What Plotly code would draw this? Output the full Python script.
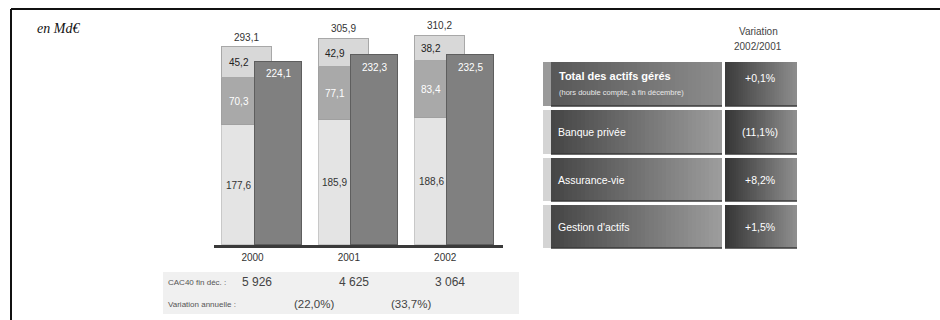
import numpy as np
import plotly.graph_objects as go

# ---------------- data ----------------
years = ["2000", "2001", "2002"]
gestion_actifs = [177.6, 185.9, 188.6]
assurance_vie = [70.3, 77.1, 83.4]
banque_privee = [45.2, 42.9, 38.2]
total_brut = [293.1, 305.9, 310.2]
total_net = [224.1, 232.3, 232.5]
cac40 = ["5 926", "4 625", "3 064"]
cac40_variation = ["(22,0%)", "(33,7%)"]
table_labels = ["Total des actifs gérés", "Banque privée", "Assurance-vie", "Gestion d'actifs"]
table_sub = "(hors double compte, à fin décembre)"
table_values = ["+0,1%", "(11,1%)", "+8,2%", "+1,5%"]

W, H = 940, 320
def px(x): return x / W
def py(y): return 1 - y / H
def fr(v): return f"{v:.1f}".replace(".", ",")

FONT = "Liberation Sans, Arial, sans-serif"
xs = list(range(len(years)))

fig = go.Figure()
light_w, light_off = 0.518, -0.155 - 0.259
dark_w, dark_off = 0.487, 0.166 - 0.2435

fig.add_bar(x=xs, y=gestion_actifs, width=light_w, offset=light_off,
            marker=dict(color="#e4e4e4", line=dict(color="#c8c8c8", width=1)), yaxis="y")
fig.add_bar(x=xs, y=assurance_vie, width=light_w, offset=light_off,
            marker=dict(color="#a9a9a9", line=dict(color="#a0a0a0", width=1)), yaxis="y")
fig.add_bar(x=xs, y=banque_privee, width=light_w, offset=light_off,
            marker=dict(color="#d8d8d8", line=dict(color="#a8a8a8", width=1)), yaxis="y")
fig.add_bar(x=xs, y=total_net, width=dark_w, offset=dark_off,
            marker=dict(color="#808080", line=dict(color="#5e5e5e", width=1.5)), yaxis="y2")

ann = []
def A(**kw):
    kw.setdefault("xanchor", "center")
    kw.setdefault("yanchor", "middle")
    kw.setdefault("showarrow", False)
    ann.append(kw)

lab_dx = -0.245
for i in xs:
    g, a, b = gestion_actifs[i], assurance_vie[i], banque_privee[i]
    A(x=i - 0.16, y=total_brut[i], xref="x", yref="y", text=fr(total_brut[i]),
      yshift=10, font=dict(size=10, color="#333", family=FONT))
    A(x=i + lab_dx, y=g + a + b / 2, xref="x", yref="y", text=fr(b),
      font=dict(size=10, color="#222", family=FONT))
    A(x=i + lab_dx, y=g + a / 2, xref="x", yref="y", text=fr(a),
      font=dict(size=10, color="#ffffff", family=FONT))
    A(x=i + lab_dx, y=g / 2, xref="x", yref="y", text=fr(g),
      font=dict(size=10, color="#333", family=FONT))
    A(x=i + 0.166, y=total_net[i], xref="x", yref="y2", text=fr(total_net[i]),
      yshift=-12, font=dict(size=10, color="#ffffff", family=FONT))
    A(x=i - 0.05, y=py(282), xref="x", yref="paper", text=cac40[i],
      font=dict(size=12, color="#444", family=FONT))
for i, v in enumerate(cac40_variation):
    A(x=i + 0.54, y=py(304), xref="x", yref="paper", text=v,
      font=dict(size=11.5, color="#444", family=FONT))

A(x=px(166), y=py(282), xref="paper", yref="paper", text="CAC40 fin déc. :",
  xanchor="left", font=dict(size=8, color="#555", family=FONT))
A(x=px(166), y=py(304), xref="paper", yref="paper", text="Variation annuelle :",
  xanchor="left", font=dict(size=8, color="#555", family=FONT))
A(x=px(35), y=py(29), xref="paper", yref="paper", text="<i>en Md€</i>",
  xanchor="left", font=dict(size=14, color="#111", family="Liberation Serif, Times New Roman, serif"))
A(x=px(758), y=py(31), xref="paper", yref="paper", text="Variation",
  font=dict(size=10, color="#444", family=FONT))
A(x=px(758), y=py(47), xref="paper", yref="paper", text="2002/2001",
  font=dict(size=10, color="#444", family=FONT))

# ---------------- table ----------------
rows = [(62, 106), (110, 154), (158, 201), (205, 248)]
left_scales = [[[0, "#585858"], [1, "#8c8c8c"]]] + [[[0, "#464646"], [1, "#9c9c9c"]]] * 3
right_scales = [[[0, "#3c3c3c"], [1, "#8c8c8c"]]] + [[[0, "#363636"], [1, "#8e8e8e"]]] * 3
strip_colors = ["#9a9a9a", "#d4d4d4", "#d4d4d4", "#d4d4d4"]
n = 40
shapes = []
for r, (y0, y1) in enumerate(rows):
    for (x0, x1, cs) in [(551, 722, left_scales[r]), (725, 797, right_scales[r])]:
        fig.add_heatmap(x=np.linspace(x0, x1, n + 1), y=[y0, y1], z=[list(range(n))],
                        colorscale=cs, showscale=False, hoverinfo="skip",
                        xaxis="x3", yaxis="y3")
        shapes.append(dict(type="line", xref="x3", yref="y3", x0=x0, x1=x1, y0=y1, y1=y1,
                           line=dict(color="#3a3a3a", width=1.5)))
    shapes.append(dict(type="rect", xref="x3", yref="y3", x0=543, x1=551, y0=y0, y1=y1,
                       fillcolor=strip_colors[r], line=dict(width=0)))
    label = table_labels[r]
    if r == 0:
        A(x=557, y=76, xref="x3", yref="y3", text="<b>" + label + "</b>",
          xanchor="left", font=dict(size=11, color="#ffffff", family=FONT))
        A(x=557, y=92, xref="x3", yref="y3", text=table_sub,
          xanchor="left", font=dict(size=7.5, color="#e8e8e8", family=FONT))
        vy = 78
    else:
        A(x=556, y=(y0 + y1) / 2, xref="x3", yref="y3", text=label,
          xanchor="left", font=dict(size=10.5, color="#ffffff", family=FONT))
        vy = (y0 + y1) / 2
    A(x=760, y=vy, xref="x3", yref="y3", text=table_values[r],
      font=dict(size=10.5, color="#ffffff", family=FONT))

# CAC band, frame
shapes.insert(0, dict(type="rect", xref="paper", yref="paper", x0=px(163), x1=px(519),
                      y0=py(314), y1=py(272), fillcolor="#f0f0f0", line=dict(width=0), layer="below"))
shapes.append(dict(type="line", xref="paper", yref="paper", x0=px(11), x1=px(940),
                   y0=py(9), y1=py(9), line=dict(color="#111", width=2)))
shapes.append(dict(type="line", xref="paper", yref="paper", x0=px(11), x1=px(11),
                   y0=py(9), y1=py(320), line=dict(color="#111", width=2)))

fig.update_layout(
    width=W, height=H, margin=dict(l=0, r=0, t=0, b=0),
    paper_bgcolor="white", plot_bgcolor="rgba(0,0,0,0)",
    barmode="stack", showlegend=False, bargap=0,
    font=dict(family=FONT),
    xaxis=dict(domain=[px(214), px(503)], range=[-0.5, 2.5], tickvals=[i - 0.1 for i in xs],
               ticktext=years, showgrid=False, zeroline=False, showline=True,
               linecolor="#3a3a3a", linewidth=2.5, ticks="", ticklabelstandoff=1,
               tickfont=dict(size=10, color="#333", family=FONT), fixedrange=True),
    yaxis=dict(domain=[py(245), py(25)], range=[0, 220 / 0.675], visible=False, fixedrange=True),
    yaxis2=dict(overlaying="y", range=[0, 220 / 0.817], visible=False, fixedrange=True),
    xaxis3=dict(domain=[px(540), px(800)], range=[540, 800], visible=False, anchor="y3"),
    yaxis3=dict(domain=[py(250), py(60)], range=[250, 60], visible=False, anchor="x3"),
    annotations=ann, shapes=shapes,
)

fig.write_html("out.html")
